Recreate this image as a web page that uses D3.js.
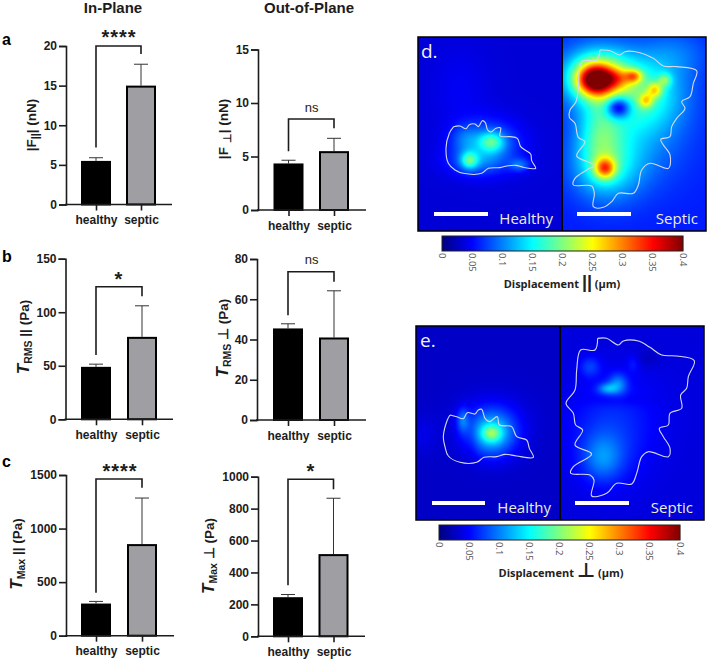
<!DOCTYPE html>
<html><head><meta charset="utf-8">
<script src="https://cdn.jsdelivr.net/npm/d3@7"></script>
<style>html,body{margin:0;padding:0;background:#fff}svg{display:block}text{font-family:"Liberation Sans",Arial,sans-serif}</style>
</head><body><svg id="c" width="708" height="660"></svg>
<script>
// ---------- bar data ----------
const groups = ["healthy","septic"];
const valsFPar = [5.5,15];      const errFPar = [5.9,17.7];
const valsFPerp = [4.35,5.5];   const errFPerp = [4.65,6.7];
const valsRmsPar = [49,77];     const errRmsPar = [51.5,106];
const valsRmsPerp = [45.5,41];  const errRmsPerp = [47.8,64.2];
const valsMaxPar = [300,855];   const errMaxPar = [320,1285];
const valsMaxPerp = [245,515];  const errMaxPerp = [262,865];
const ticksFPar = [0,5,10,15,20];
const ticksFPerp = [0,5,10,15];
const ticksRmsPar = [0,50,100,150];
const ticksRmsPerp = [0,20,40,60,80];
const ticksMaxPar = [0,500,1000,1500];
const ticksMaxPerp = [0,200,400,600,800,1000];
// significance brackets: [top, left foot, right foot], in axis units
const brFPar = [20,7.2,19];
const brFPerp = [8.5,5.5,7.65];
const brRmsPar = [123.8,60,115];
const brRmsPerp = [73.7,52,68.7];
const brMaxPar = [1463,400,1380];
const brMaxPerp = [984,320,922];
// ---------- heat map data: field base + blobs [x,y,amp,sx,sy] in map units ----------
const baseDH = 0.034;
const blobsDH = [[245,335,.085,26,20],[178,392,.095,18,18],[330,405,.05,22,14],[165,325,.03,30,28],[235,345,.07,65,50],[190,395,.035,60,30],[150,180,.012,60,90]];
const baseDS = 0.06;
const blobsDS = [[555,150,.20,36,30],[565,140,.15,60,48],[560,130,.04,100,80],[625,145,.06,30,20],[672,138,.11,18,14],[708,212,.09,15,15],[735,180,.10,16,16],[765,150,.07,14,14],
 [700,190,.085,85,75],[570,310,.07,45,80],[585,415,.155,22,22],[590,410,.075,70,70],[670,310,.045,110,110],[625,232,-.14,26,23],[800,70,.03,70,50]];
const baseEH = 0.028;
const blobsEH = [[245,340,.075,20,17],[245,340,.10,50,48],[158,300,.05,13,26],[250,300,.015,80,60],[40,345,.012,30,40],[185,365,-.008,14,40]];
const baseES = 0.036;
const blobsES = [[578,415,.05,42,48],[600,350,.03,85,100],[592,206,.06,20,12],[624,192,.055,20,22],[540,140,.035,22,22],[670,130,.02,14,18],[640,260,.008,110,90],[710,115,-.012,30,20],[620,240,-.01,60,14]];
// ---------- outlines in map units ----------
const outlineDH = [[131,290],[150,288],[168,296],[178,284],[195,282],[205,290],[217,272],[226,278],[233,300],[243,306],[258,295],[272,294],[270,318],[300,320],[322,325],[332,350],[345,360],[362,372],[365,392],[377,415],[340,412],[318,406],[290,408],[270,413],[235,415],[215,430],[160,430],[135,420],[115,400],[108,355],[118,310],[131,290]];
const outlineDS = [[570,60],[600,62],[630,75],[645,65],[690,68],[730,85],[760,108],[800,110],[860,122],[850,160],[840,200],[815,215],[825,235],[800,265],[785,290],[780,320],[752,328],[760,345],[780,375],[775,415],[720,400],[695,420],[685,465],[670,490],[625,490],[605,515],[580,532],[550,530],[553,490],[545,468],[490,465],[495,445],[530,420],[553,405],[500,378],[525,335],[505,322],[495,280],[478,262],[480,240],[498,215],[505,175],[515,95],[560,90],[570,60]];
const outlineEH = [[120,285],[140,290],[160,296],[172,278],[195,282],[205,270],[215,268],[225,295],[238,305],[262,290],[268,315],[305,320],[320,350],[350,360],[358,385],[370,412],[320,408],[285,403],[260,410],[222,412],[200,427],[150,427],[115,408],[105,380],[100,350],[112,300],[120,285]];
const outlineES = [[563,55],[590,55],[625,75],[640,63],[685,63],[720,82],[755,105],[800,108],[853,122],[835,170],[830,205],[812,225],[815,265],[780,280],[775,315],[748,325],[760,350],[780,385],[775,410],[715,395],[695,410],[680,460],[665,492],[620,490],[590,520],[545,528],[552,480],[540,465],[482,460],[490,440],[545,402],[495,375],[518,330],[497,315],[490,280],[468,250],[495,210],[500,150],[512,90],[555,90],[563,55]];
const colorTicks = [0,.05,.1,.15,.2,.25,.3,.35,.4];
const colorLabels = ["0","0.05","0.1","0.15","0.2","0.25","0.3","0.35","0.4"];

const jetDomain = [0,.05,.15,.25,.35,.4];
const jetRange = ["#00007f","#0000ff","#00ffff","#ffff00","#ff0000","#7f0000"];
const jet = d3.scaleLinear().domain(jetDomain).range(jetRange).clamp(true);

const svg = d3.select("#c");
const INK = "#1c1c1c";

// ---------- bar panels ----------
const panels = [
 {v:valsFPar,e:errFPar,t:ticksFPar,b:brFPar,ax:66,top:46,zero:204.5,end:172,c:[96,141],sig:"****",sx:119,sy:35,lx:36,ly:125,ylab:[["|F"],["||","sub"],["| (nN)"]]},
 {v:valsFPerp,e:errFPerp,t:ticksFPerp,b:brFPerp,ax:258,top:49.5,zero:210,end:366,c:[288.5,334],sig:"ns",sx:311.7,sy:112,lx:227.5,ly:129,ylab:[["|F "],["⊥","sub"],["| (nN)"]]},
 {v:valsRmsPar,e:errRmsPar,t:ticksRmsPar,b:brRmsPar,ax:65.5,top:258.7,zero:419.3,end:173,c:[96,142],sig:"*",sx:119,sy:276.7,lx:29,ly:337,ylab:[["T","it"],["RMS","sub"],[" || (Pa)"]]},
 {v:valsRmsPerp,e:errRmsPerp,t:ticksRmsPerp,b:brRmsPerp,ax:257,top:259,zero:420,end:366,c:[288,334],sig:"ns",sx:311.7,sy:264,lx:228,ly:338,ylab:[["T","it"],["RMS","sub"],[" ⊥ (Pa)"]]},
 {v:valsMaxPar,e:errMaxPar,t:ticksMaxPar,b:brMaxPar,ax:66,top:475,zero:635.7,end:174,c:[96,142],sig:"****",sx:120,sy:469,lx:21.5,ly:554,ylab:[["T","it"],["Max","sub"],[" || (Pa)"]]},
 {v:valsMaxPerp,e:errMaxPerp,t:ticksMaxPerp,b:brMaxPerp,ax:258,top:476.7,zero:636.3,end:365,c:[288,333.5],sig:"*",sx:311,sy:469,lx:214,ly:556,ylab:[["T","it"],["Max","sub"],[" ⊥ (Pa)"]]}
];
const BARW = 28;
panels.forEach(p=>{
  const g = svg.append("g");
  const y = d3.scaleLinear().domain(d3.extent(p.t)).range([p.zero,p.top]);
  const x = d3.scalePoint().domain(groups).range(p.c);
  groups.forEach((k,i)=>{
    g.append("line").attr("x1",x(k)).attr("x2",x(k)).attr("y1",y(p.v[i])).attr("y2",y(p.e[i])).attr("stroke","#333").attr("stroke-width",1);
    g.append("line").attr("x1",x(k)-7).attr("x2",x(k)+7).attr("y1",y(p.e[i])).attr("y2",y(p.e[i])).attr("stroke","#333").attr("stroke-width",1);
    g.append("rect").attr("x",x(k)-BARW/2).attr("width",BARW).attr("y",y(p.v[i])+1).attr("height",y(0)-y(p.v[i])-1)
      .attr("fill",i?"#9e9ea3":"#000").attr("stroke","#000").attr("stroke-width",2);
  });
  const ya = d3.axisLeft(y).tickValues(p.t).tickFormat(d3.format("d")).tickSize(7).tickPadding(2);
  const yg = g.append("g").attr("transform",`translate(${p.ax},0)`).call(ya);
  const xa = d3.axisBottom(x).tickSize(6).tickPadding(5);
  const xg = g.append("g").attr("transform",`translate(0,${p.zero})`).call(xa);
  xg.select(".domain").remove();
  g.append("line").attr("x1",p.ax-1).attr("x2",p.end).attr("y1",p.zero).attr("y2",p.zero).attr("stroke",INK).attr("stroke-width",1.6);
  [yg,xg].forEach(a=>{
    a.selectAll("path,line").attr("stroke",INK).attr("stroke-width",1.6);
    a.selectAll("text").attr("fill",INK).attr("font-size",12).attr("font-weight","bold").style("font-family",'"Liberation Sans"');
  });
  const br = [[x(groups[0]),y(p.b[1])],[x(groups[0]),y(p.b[0])],[x(groups[1]),y(p.b[0])],[x(groups[1]),y(p.b[2])]];
  g.append("path").attr("d",d3.line()(br)).attr("fill","none").attr("stroke",INK).attr("stroke-width",1.6);
  if(p.sig==="ns"){
    g.append("text").attr("x",p.sx).attr("y",p.sy).attr("text-anchor","middle").attr("font-size",13).attr("fill",INK).text(p.sig);
  }else{
    g.append("text").attr("x",p.sx).attr("y",p.sy+9).attr("text-anchor","middle").attr("font-size",20).attr("font-weight","bold").attr("letter-spacing",1).attr("fill",INK).text(p.sig);
  }
  const t = g.append("text").attr("transform",`translate(${p.lx},${p.ly}) rotate(-90)`).attr("text-anchor","middle").attr("font-size",13.5).attr("font-weight","bold").attr("fill",INK);
  let lowered=false;
  p.ylab.forEach(([s,k])=>{
    const ts=t.append("tspan").text(s);
    if(k==="it"){ts.attr("font-style","italic").attr("font-size",17);}
    if(k==="sub"){ts.attr("font-size",10.5).attr("dy",3);lowered=true;}
    else if(lowered){ts.attr("dy",-3);lowered=false;}
  });
});

const titles = [["In-Plane",113,13],["Out-of-Plane",309,13]];
titles.forEach(([s,x,y])=>svg.append("text").attr("x",x).attr("y",y).attr("text-anchor","middle").attr("font-size",15).attr("font-weight","bold").attr("fill",INK).text(s));
const letters = [["a",2,45],["b",2,262],["c",2,467]];
letters.forEach(([s,x,y])=>svg.append("text").attr("x",x).attr("y",y).attr("font-size",16).attr("font-weight","bold").attr("fill","#000").text(s));

// ---------- heat maps ----------
function heat(base,blobs,x0,x1,y0,y1,sx,sy){
  const w=Math.round(x1-x0),h=Math.round(y1-y0);
  const c=document.createElement("canvas");c.width=w;c.height=h;
  const ctx=c.getContext("2d");const im=ctx.createImageData(w,h);
  for(let j=0;j<h;j++)for(let i=0;i<w;i++){
    const mx=sx.invert(x0+i+.5),my=sy.invert(y0+j+.5);
    let f=base;
    blobs.forEach(([bx,by,a,s1,s2])=>{const dx=(mx-bx)/s1,dy=(my-by)/s2;f+=a*Math.exp(-.5*(dx*dx+dy*dy));});
    const col=d3.rgb(jet(f));const k=(j*w+i)*4;
    im.data[k]=col.r;im.data[k+1]=col.g;im.data[k+2]=col.b;im.data[k+3]=255;
  }
  ctx.putImageData(im,0,0);
  svg.append("image").attr("x",x0).attr("y",y0).attr("width",w).attr("height",h).attr("href",c.toDataURL());
}
const mapRows = [
 {mx:[0,894],my:[0,810],ox:410,oy:30,L:418,M:562,R:706,T:37,B:231,
  left:[baseDH,blobsDH,outlineDH],right:[baseDS,blobsDS,outlineDS],tag:"d.",tagx:421,tagy:58,
  sb:[[434,488],[577,631]],sby:212,nameY:224,nameX:[553,698],
  cb:[442,683],cbT:236,cbB:251,labX:562,labY:288,sym:"||"},
 {mx:[0,894],my:[0,810],ox:410,oy:320,L:416,M:560,R:704,T:326,B:520,
  left:[baseEH,blobsEH,outlineEH],right:[baseES,blobsES,outlineES],tag:"e.",tagx:420,tagy:347,
  sb:[[432,485],[575,629]],sby:501,nameY:513,nameX:[551,693],
  cb:[439,680],cbT:525,cbB:540,labX:561,labY:577,sym:"⊥"}
];
const LIGHT='"Open Sans",sans-serif';
mapRows.forEach(r=>{
  const sx=d3.scaleLinear().domain(r.mx).range([r.ox,r.ox+298]);
  const sy=d3.scaleLinear().domain(r.my).range([r.oy,r.oy+270]);
  heat(r.left[0],r.left[1],r.L,r.M,r.T,r.B,sx,sy);
  heat(r.right[0],r.right[1],r.M,r.R,r.T,r.B,sx,sy);
  const line=d3.line().x(d=>sx(d[0])).y(d=>sy(d[1])).curve(d3.curveCatmullRom.alpha(.5));
  [r.left[2],r.right[2]].forEach(o=>svg.append("path").attr("d",line(o)).attr("fill","none").attr("stroke","#d4d8ee").attr("stroke-width",1.1));
  svg.append("rect").attr("x",r.L).attr("y",r.T).attr("width",r.R-r.L).attr("height",r.B-r.T).attr("fill","none").attr("stroke","#000").attr("stroke-width",1.5);
  svg.append("line").attr("x1",r.M).attr("x2",r.M).attr("y1",r.T).attr("y2",r.B).attr("stroke","#000").attr("stroke-width",2);
  svg.append("text").attr("x",r.tagx).attr("y",r.tagy).attr("font-size",19).attr("fill","#f2f2e8").style("font-family",LIGHT).text(r.tag);
  r.sb.forEach(([a,b])=>svg.append("rect").attr("x",a).attr("width",b-a).attr("y",r.sby).attr("height",4).attr("fill","#fff"));
  ["Healthy","Septic"].forEach((s,i)=>svg.append("text").attr("x",r.nameX[i]).attr("y",r.nameY).attr("text-anchor","end").attr("font-size",15).attr("fill","#eeeed8").style("font-family",LIGHT).text(s));
  const cs=d3.scaleLinear().domain([0,.4]).range(r.cb);
  const cells=d3.range(r.cb[0],r.cb[1]);
  svg.append("g").selectAll("rect").data(cells).join("rect").attr("x",d=>d).attr("width",1.2).attr("y",r.cbT).attr("height",r.cbB-r.cbT).attr("fill",d=>jet(cs.invert(d+.5)));
  svg.append("rect").attr("x",r.cb[0]).attr("y",r.cbT).attr("width",r.cb[1]-r.cb[0]).attr("height",r.cbB-r.cbT).attr("fill","none").attr("stroke","#222").attr("stroke-width",1);
  colorTicks.forEach((v,i)=>svg.append("text").attr("transform",`translate(${cs(v)-3.5},${r.cbB+2}) rotate(90)`).attr("font-size",9.5).attr("fill","#555").style("font-family",LIGHT).text(colorLabels[i]));
  const t=svg.append("text").attr("x",r.labX).attr("y",r.labY).attr("text-anchor","middle").attr("font-size",11).attr("font-weight","bold").attr("fill","#222").style("font-family",LIGHT);
  t.append("tspan").text("Displacement ");
  t.append("tspan").attr("font-size",r.sym==="||"?18:20).attr("font-weight","bold").text(r.sym).style("font-family",r.sym==="||"?'"Liberation Sans"':'"DejaVu Sans"');
  t.append("tspan").text(" (µm)");
});
</script></body></html>
